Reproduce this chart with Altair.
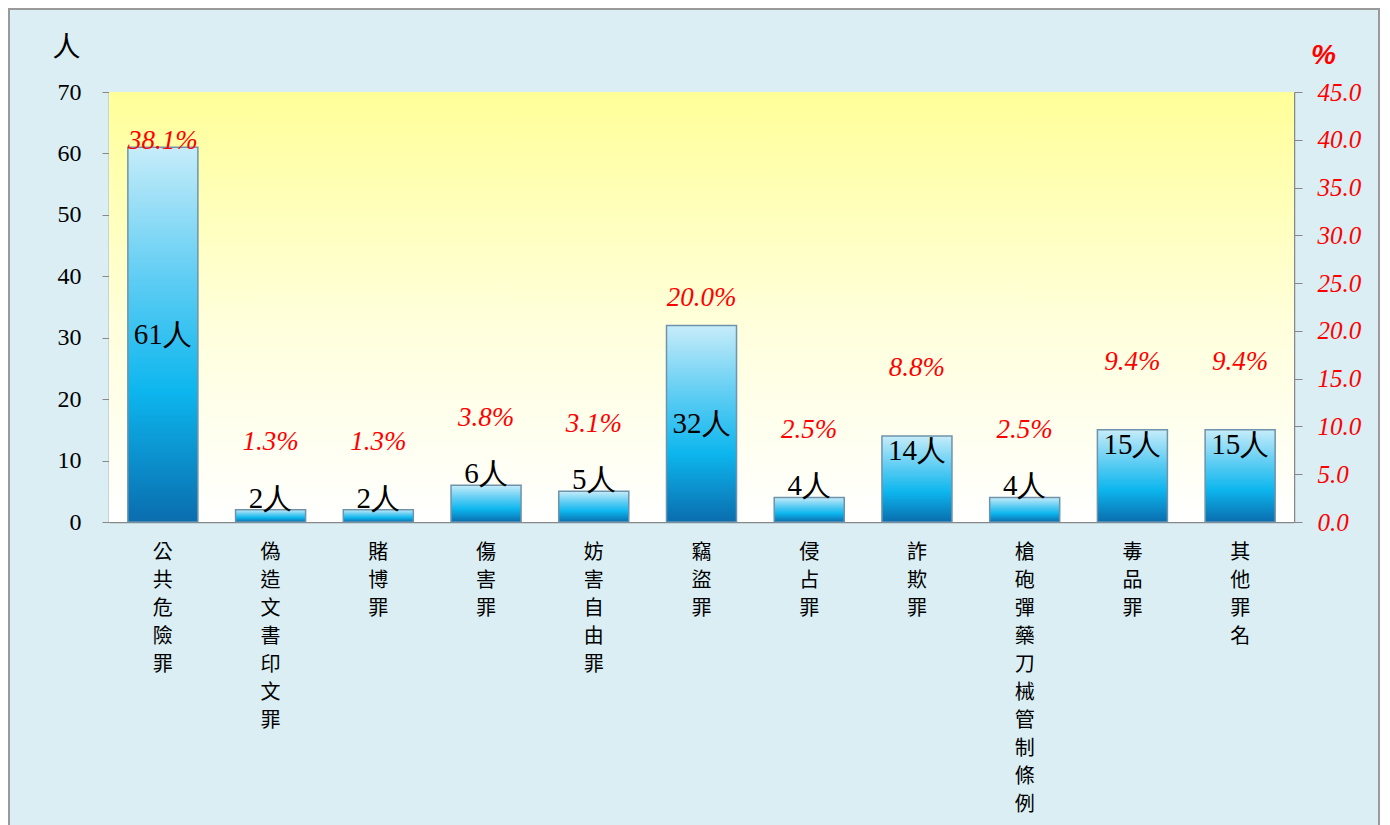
import altair as alt
import pandas as pd

categories = ["公共危險罪", "偽造文書印文罪", "賭博罪", "傷害罪", "妨害自由罪", "竊盜罪",
              "侵占罪", "詐欺罪", "槍砲彈藥刀械管制條例", "毒品罪", "其他罪名"]
counts = [61, 2, 2, 6, 5, 32, 4, 14, 4, 15, 15]
percents = [38.1, 1.3, 1.3, 3.8, 3.1, 20.0, 2.5, 8.8, 2.5, 9.4, 9.4]
left_ticks = [0, 10, 20, 30, 40, 50, 60, 70]
right_ticks = [0, 5, 10, 15, 20, 25, 30, 35, 40, 45]

df = pd.DataFrame({"cat": categories, "count": counts, "pct": percents})

W, H = 1185, 430
PAD_L, PAD_T, PAD_R, PAD_B = 101, 84, 86, 320

base = alt.Chart(df)
xenc = alt.X("cat:N", sort=categories,
             scale=alt.Scale(paddingInner=0.35, paddingOuter=0.175),
             axis=alt.Axis(title=None, labelAngle=0, labelExpr="split(datum.label, '')",
                           labelFont="Noto Sans CJK TC", labelFontSize=20, labelColor="#000",
                           labelLineHeight=28, labelBaseline="top", labelPadding=20,
                           ticks=False, domainColor="#888888", domainWidth=1.5))

left_scale = alt.Scale(domain=[0, 70], nice=False)

bg = alt.Chart(alt.Data(values=[{}])).mark_rect(
    color=alt.Gradient(gradient="linear", x1=0, x2=0, y1=0, y2=1,
                       stops=[alt.GradientStop(color="#FFFF99", offset=0),
                              alt.GradientStop(color="#FFFFDD", offset=0.55),
                              alt.GradientStop(color="#FFFFFF", offset=1)])
).encode(x=alt.value(0), x2=alt.value(W), y=alt.value(0), y2=alt.value(H))

bars = base.mark_bar(
    color=alt.Gradient(gradient="linear", x1=0, x2=0, y1=0, y2=1,
                       stops=[alt.GradientStop(color="#C6ECF9", offset=0),
                              alt.GradientStop(color="#5FCDF3", offset=0.35),
                              alt.GradientStop(color="#0DB6EE", offset=0.65),
                              alt.GradientStop(color="#0A6DAE", offset=1)]),
    stroke="#6F93AA", strokeWidth=1.5
).encode(
    x=xenc,
    y=alt.Y("count:Q", scale=left_scale,
            axis=alt.Axis(values=left_ticks, grid=False, title="人", titleAngle=0,
                          titleFont="Noto Sans CJK TC", titleFontSize=28, titleFontWeight="normal",
                          titleColor="#000", titleX=-43, titleY=-44, titleAlign="center",
                          titleBaseline="middle",
                          labelFont="Liberation Serif", labelFontSize=24, labelColor="#000",
                          labelPadding=21, tickSize=7, tickColor="#888888",
                          domainColor="#888888", domainWidth=1.5))
)

count_labels = base.transform_calculate(
    ly="datum.count >= 30 ? datum.count / 2 : (datum.count >= 10 ? datum.count - 2.5 : datum.count + 1.8)",
    txt="datum.count + '人'"
).mark_text(font="Liberation Serif", fontSize=29, color="#000", baseline="middle").encode(
    x=alt.X("cat:N", sort=categories), y=alt.Y("ly:Q", scale=left_scale), text="txt:N"
)

pct_labels = base.transform_calculate(
    py="datum.count >= 50 ? datum.count + 1 : (datum.count >= 20 ? datum.count + 4.5 : datum.count + 11)",
    txt="format(datum.pct, '.1f') + '%'"
).mark_text(font="Liberation Serif", fontSize=27, fontStyle="italic", color="#FF0000",
            baseline="middle").encode(
    x=alt.X("cat:N", sort=categories), y=alt.Y("py:Q", scale=left_scale), text="txt:N"
)

border = alt.Chart(alt.Data(values=[{}])).mark_rule(color="#9A9A9A", strokeWidth=2).encode(
    x=alt.value(-PAD_L + 1), y=alt.value(-PAD_T), y2=alt.value(H + PAD_B)
)
border_r = alt.Chart(alt.Data(values=[{}])).mark_rule(color="#9A9A9A", strokeWidth=2).encode(
    x=alt.value(W + PAD_R - 1), y=alt.value(-PAD_T), y2=alt.value(H + PAD_B)
)
border_t = alt.Chart(alt.Data(values=[{}])).mark_rule(color="#9A9A9A", strokeWidth=2).encode(
    x=alt.value(-PAD_L), x2=alt.value(W + PAD_R), y=alt.value(-PAD_T + 1)
)

left_layer = alt.layer(bg, bars, count_labels, pct_labels, border, border_r, border_t)

ghost = base.mark_point(opacity=0).encode(
    x=alt.X("cat:N", sort=categories),
    y=alt.Y("pct:Q", scale=alt.Scale(domain=[0, 45], nice=False),
            axis=alt.Axis(orient="right", values=right_ticks, format=".1f", grid=False,
                          title="%", titleAngle=0, titleFont="Liberation Sans", titleFontSize=28,
                          titleFontWeight="bold", titleFontStyle="italic", titleColor="#FF0000",
                          titleX=29, titleY=-37, titleAlign="center", titleBaseline="middle",
                          labelFont="Liberation Serif", labelFontSize=25, labelFontStyle="italic",
                          labelColor="#FF0000", labelPadding=15, tickSize=8,
                          tickColor="#888888", domainColor="#888888", domainWidth=1.5))
)

chart = alt.layer(left_layer, ghost).resolve_scale(y="independent").properties(
    width=W, height=H,
    autosize=alt.AutoSizeParams(type="none"),
    padding={"left": PAD_L, "top": PAD_T, "right": PAD_R, "bottom": PAD_B},
    background="#DAEEF3"
).configure_view(stroke=None)

chart.save("out.html", embed_options={"renderer": "svg", "actions": False})
